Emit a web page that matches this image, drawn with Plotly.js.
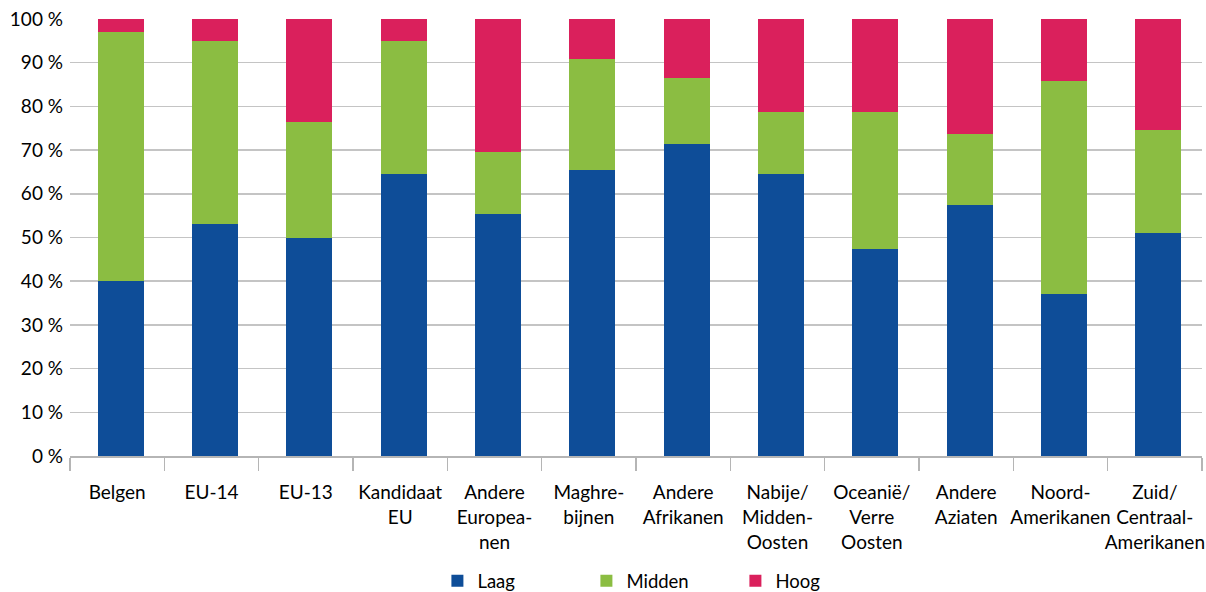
<!DOCTYPE html>
<html>
<head>
<meta charset="utf-8">
<script src="https://cdn.plot.ly/plotly-3.0.1.min.js"></script>
<style>html,body{margin:0;padding:0;background:#fff;}#chart{width:1206px;height:592px;}</style>
</head>
<body>
<div id="chart"></div>
<script>
const categories = ["Belgen", "EU-14", "EU-13", "Kandidaat<br>EU", "Andere<br>Europea-<br>nen", "Maghre-<br>bijnen", "Andere<br>Afrikanen", "Nabije/<br>Midden-<br>Oosten", "Oceanië/<br>Verre<br>Oosten", "Andere<br>Aziaten", "Noord-<br>Amerikanen", "Zuid/<br>Centraal-<br>Amerikanen"];
const laag   = [40, 53, 50, 64.5, 55.4, 65.4, 71.4, 64.5, 47.4, 57.4, 37.1, 51.1];
const midden = [57, 42, 26.5, 30.5, 14.1, 25.4, 15.2, 14.2, 31.3, 16.3, 48.6, 23.5];
const hoog   = [3, 5, 23.5, 5, 30.5, 9.2, 13.4, 21.3, 21.3, 26.3, 14.3, 25.4];
const seriesNames = ["Laag", "Midden", "Hoog"];
const colors = ["#0E4D98", "#8BBD42", "#DA205C"];
const tickVals = [0, 10, 20, 30, 40, 50, 60, 70, 80, 90, 100];

const barWidth = 0.488;
const barOffset = -0.208;

const traces = [laag, midden, hoog].map((vals, i) => ({
  type: "bar",
  name: seriesNames[i],
  x: categories,
  y: vals,
  width: barWidth,
  offset: barOffset,
  marker: {color: colors[i], line: {width: 0}},
  hoverinfo: "skip"
}));

const layout = {
  width: 1206, height: 592,
  barmode: "stack",
  margin: {l: 70, r: 4, t: 19, b: 136, autoexpand: false},
  paper_bgcolor: "#fff", plot_bgcolor: "#fff",
  font: {family: "Lato, 'Noto Sans', sans-serif", size: 19, color: "#000"},
  showlegend: true,
  legend: {
    orientation: "h", x: 0.522, xanchor: "center",
    yref: "container", y: 0.018, yanchor: "middle",
    entrywidth: 104, entrywidthmode: "pixels",
    font: {size: 18.5, color: "#000"}, traceorder: "normal",
    itemclick: false
  },
  xaxis: {
    type: "category",
    automargin: false,
    tickson: "boundaries",
    ticks: "outside", ticklen: 13, tickcolor: "#b5b5b5", tickwidth: 1.5,
    showline: true, linecolor: "#b5b5b5", linewidth: 1.5,
    showgrid: false, zeroline: false,
    tickfont: {size: 19, color: "#000"},
    ticklabelstandoff: 19,
    tickangle: 0,
    fixedrange: true
  },
  yaxis: {
    range: [0, 100],
    automargin: false,
    tickvals: tickVals,
    ticktext: tickVals.map(v => v + " %"),
    showgrid: true, gridcolor: "#c4c4c4", gridwidth: 1.5,
    zeroline: false, showline: false,
    ticks: "", ticklabelstandoff: 6,
    tickfont: {size: 19, color: "#000"},
    fixedrange: true
  }
};

Plotly.newPlot("chart", traces, layout, {displayModeBar: false, staticPlot: true});
</script>
</body>
</html>
